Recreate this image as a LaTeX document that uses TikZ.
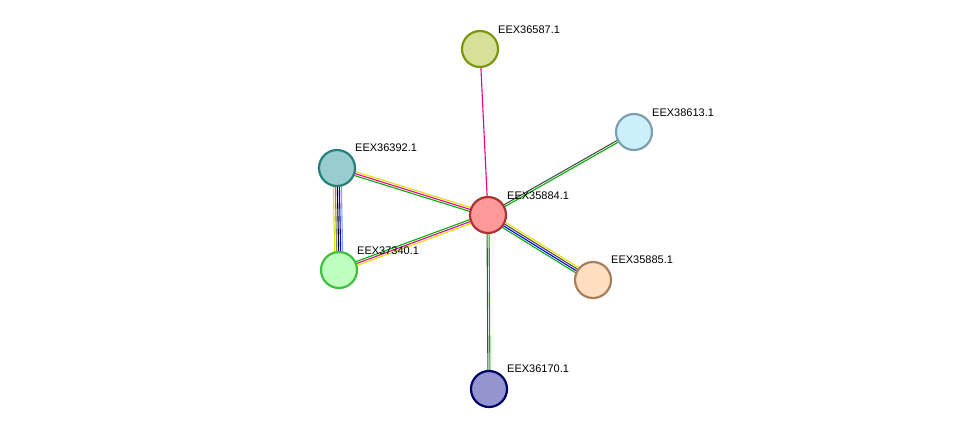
\documentclass[tikz,border=0pt]{standalone}
\usepackage{fontspec}
\setmainfont{Liberation Sans}
\usetikzlibrary{calc,backgrounds}
\newcommand{\myedge}[3]{%
  \foreach \c [count=\i] in {#3} {\xdef\nn{\i}}%
  \foreach \c [count=\i] in {#3} {%
    \pgfmathsetmacro{\off}{(\i-(\nn+1)/2)*2}%
    \draw[\c,line width=1.1] ($(#1)!\off pt!90:(#2)$) -- ($(#2)!\off pt!-90:(#1)$);}}
\begin{document}
\begin{tikzpicture}[x=1pt,y=-1pt,
  prot/.style={circle,minimum size=36pt,inner sep=0,line width=2.2pt},
  lab/.style={anchor=south west,font=\fontsize{11}{12}\selectfont,inner sep=0}]
\useasboundingbox (0,0) rectangle (976,434);
\node[prot,fill=red!40!white,draw=red!60!black!80] (c) at (488,215) {};
\node[prot,fill=green!50!olive!30!white,fill=lime!40!olive!40!white,draw=olive!70!green] (a) at (480,49) {};
\node[prot,fill=cyan!20!white,draw=cyan!30!gray] (b) at (634,132) {};
\node[prot,fill=teal!40!white,draw=teal!70!gray] (d) at (337,168) {};
\node[prot,fill=green!25!white,draw=green!50!gray] (e) at (339,270) {};
\node[prot,fill=orange!25!white,draw=brown!60!gray] (f) at (593,280) {};
\node[prot,fill=blue!40!gray!60!white,draw=blue!40!black] (g) at (489,389) {};
\node[lab] at (498,34) {EEX36587.1};
\node[lab] at (652,117) {EEX38613.1};
\node[lab] at (355,152) {EEX36392.1};
\node[lab] at (507,200) {EEX35884.1};
\node[lab] at (357,255) {EEX37340.1};
\node[lab] at (611,264) {EEX35885.1};
\node[lab] at (507,373) {EEX36170.1};
\begin{scope}[on background layer]
\myedge{c}{a}{magenta}
\myedge{c}{b}{green!70!black,black!70}
\myedge{d}{c}{green!70!black,magenta,yellow!80!olive}
\myedge{e}{c}{yellow!80!olive,magenta,green!70!black}
\myedge{d}{e}{yellow!80!olive,gray,black,blue,cyan!50!blue!50}
\myedge{c}{f}{green!70!black,blue,black!70,yellow!80!olive}
\myedge{c}{g}{black!70,green!70!black}
\end{scope}
\end{tikzpicture}
\end{document}
